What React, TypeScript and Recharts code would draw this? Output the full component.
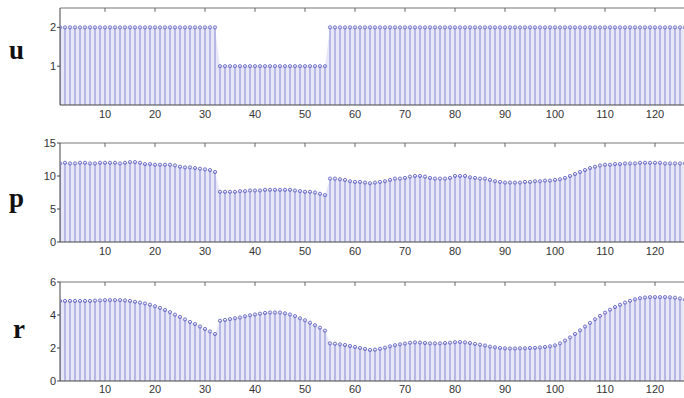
import React from "react";
import { ComposedChart, XAxis, YAxis, Bar, Line, Area, ReferenceLine } from "recharts";

// stem values, sample n = 1..128
const uValues = [
  2, 2, 2, 2, 2, 2, 2, 2, 2, 2, 2, 2, 2, 2, 2, 2, 2, 2, 2, 2, 2, 2, 2, 2, 2, 2, 2, 2, 2, 2, 2, 2,
  1, 1, 1, 1, 1, 1, 1, 1, 1, 1, 1, 1, 1, 1, 1, 1, 1, 1, 1, 1, 1, 1,
  2, 2, 2, 2, 2, 2, 2, 2, 2, 2, 2, 2, 2, 2, 2, 2, 2, 2, 2, 2, 2, 2, 2, 2, 2, 2, 2, 2, 2, 2, 2, 2,
  2, 2, 2, 2, 2, 2, 2, 2, 2, 2, 2, 2, 2, 2, 2, 2, 2, 2, 2, 2, 2, 2, 2, 2, 2, 2, 2, 2, 2, 2, 2, 2,
  2, 2, 2, 2, 2, 2, 2, 2, 2, 2,
];

const pValues = [
  11.9, 12.0, 11.9, 11.9, 12.0, 12.0, 11.9, 11.9, 12.0, 12.0, 12.0, 12.0, 11.9, 12.0, 12.1, 12.1, 12.0,
  11.8, 11.8, 11.7, 11.7, 11.7, 11.7, 11.6,
  11.4, 11.3, 11.3, 11.2, 11.1, 11.0, 10.9, 10.6,
  7.6, 7.6, 7.6, 7.6, 7.7, 7.7, 7.8, 7.8, 7.8, 7.9, 7.9, 7.9, 7.9, 7.9, 7.9, 7.8, 7.7, 7.6, 7.6, 7.5, 7.3, 7.1,
  9.6, 9.6, 9.5, 9.4, 9.2, 9.1, 9.1, 9.0, 8.9, 9.0, 9.1, 9.2, 9.4,
  9.6, 9.6, 9.7, 9.9, 10.0, 10.0, 9.9, 9.7, 9.6, 9.6, 9.6, 9.7,
  10.0, 10.0, 10.0, 9.8, 9.7, 9.6, 9.6, 9.4,
  9.2, 9.1, 9.0, 9.0, 9.0, 9.0, 9.1, 9.1, 9.2, 9.2, 9.3, 9.3,
  9.4, 9.5, 9.7, 10.0, 10.3, 10.6, 10.9, 11.2, 11.4, 11.6, 11.7,
  11.7, 11.8, 11.8, 11.9, 11.9, 11.9, 12.0, 12.0, 12.0, 12.0, 12.0, 11.9, 11.9, 11.9, 11.9, 11.9, 11.8, 11.8,
];

const rValues = [
  4.85, 4.85, 4.85, 4.85, 4.85, 4.85, 4.85, 4.87, 4.88, 4.9, 4.9, 4.9, 4.9, 4.88, 4.85, 4.8,
  4.75, 4.7, 4.62, 4.53, 4.43, 4.3, 4.17, 4.02, 3.88, 3.73, 3.58, 3.45, 3.3, 3.15, 3.0, 2.85,
  3.65, 3.7, 3.75, 3.8, 3.85, 3.92, 3.98, 4.03, 4.08, 4.12, 4.15, 4.15, 4.15, 4.1, 4.03, 3.93, 3.8, 3.68,
  3.53, 3.38, 3.23, 3.05,
  2.28, 2.26, 2.22, 2.18, 2.12, 2.06, 2.0, 1.94, 1.88, 1.9, 1.95, 2.02, 2.1, 2.17, 2.22, 2.27,
  2.32, 2.34, 2.33, 2.3, 2.28, 2.28, 2.28, 2.3, 2.32, 2.35, 2.36, 2.34, 2.3, 2.25, 2.2, 2.15,
  2.08, 2.04, 2.0, 1.98, 1.97, 1.97, 1.98, 1.98, 2.0, 2.01, 2.03, 2.06, 2.1, 2.16,
  2.28, 2.45, 2.64, 2.85, 3.07, 3.3, 3.52, 3.74, 3.95, 4.14, 4.32, 4.48, 4.62, 4.75, 4.86, 4.95,
  5.02, 5.06, 5.08, 5.08, 5.08, 5.08, 5.07, 5.05, 5.0, 4.93, 4.85, 4.75,
];

const xTicks = [10, 20, 30, 40, 50, 60, 70, 80, 90, 100, 110, 120];
const uTicks = [1, 2];
const pTicks = [0, 5, 10, 15];
const rTicks = [0, 2, 4, 6];

const toRows = (vals: number[]) => vals.map((v, i) => ({ n: i + 1, v }));

const STEM = "#8a8ad6";
const MARK = "#7070c8";
const AXIS = "#444";
const tickFont = { fontSize: 11, fill: "#333", fontFamily: "Liberation Sans, Arial, sans-serif" };

interface PanelProps {
  values: number[];
  yMax: number;
  yTicks: number[];
  top: number;
  height: number;
  axisHeight: number;
  labelGap: number;
}

const Panel: React.FC<PanelProps> = ({ values, yMax, yTicks, top, height, axisHeight, labelGap }) => (
  <div style={{ position: "absolute", left: 0, top }}>
    <ComposedChart
      width={695}
      height={height}
      data={toRows(values)}
      margin={{ top: 8, right: 0, bottom: 0, left: 0 }}
    >
      <XAxis
        dataKey="n"
        type="number"
        domain={[1, 128]}
        ticks={xTicks}
        allowDataOverflow
        height={axisHeight}
        tick={tickFont}
        tickLine={false}
        tickSize={0}
        tickMargin={labelGap}
        axisLine={{ stroke: AXIS }}
      />
      <YAxis
        type="number"
        domain={[0, yMax]}
        ticks={yTicks}
        allowDataOverflow
        width={60}
        tick={tickFont}
        tickSize={3}
        tickMargin={1}
        axisLine={{ stroke: AXIS }}
        tickLine={{ stroke: AXIS }}
      />
      <Area dataKey="v" type="linear" stroke="none" fill="#e7e7f7" fillOpacity={1} isAnimationActive={false} />
      <Bar dataKey="v" barSize={1} fill={STEM} isAnimationActive={false} />
      <Line
        dataKey="v"
        stroke="none"
        dot={{ r: 1.6, stroke: MARK, strokeWidth: 1, fill: "none" }}
        isAnimationActive={false}
      />
      {/* box top edge with small inward ticks */}
      <ReferenceLine y={yMax} stroke="#777" />
      {xTicks.map((t) => (
        <ReferenceLine
          key={t}
          segment={[
            { x: t, y: yMax },
            { x: t, y: yMax * 0.96 },
          ]}
          stroke="#666"
        />
      ))}
    </ComposedChart>
  </div>
);

const labelStyle: React.CSSProperties = {
  fontFamily: "Liberation Serif, Times New Roman, serif",
  fontWeight: "bold",
  fontSize: 27,
  fill: "#111",
};

export default function App() {
  return (
    <div
      style={{
        position: "absolute",
        left: 0,
        top: 0,
        width: 684,
        height: 398,
        overflow: "hidden",
        background: "#fff",
      }}
    >
      <Panel values={uValues} yMax={2.5} yTicks={uTicks} top={0} height={125} axisHeight={20} labelGap={5} />
      <Panel values={pValues} yMax={15} yTicks={pTicks} top={135} height={127} axisHeight={20} labelGap={5} />
      <Panel values={rValues} yMax={6} yTicks={rTicks} top={274} height={124} axisHeight={17} labelGap={4} />
      <svg width={60} height={398} style={{ position: "absolute", left: 0, top: 0 }}>
        <text x={9} y={59} style={labelStyle}>u</text>
        <text x={9} y={207} style={labelStyle}>p</text>
        <text x={13} y={338} style={labelStyle}>r</text>
      </svg>
    </div>
  );
}
